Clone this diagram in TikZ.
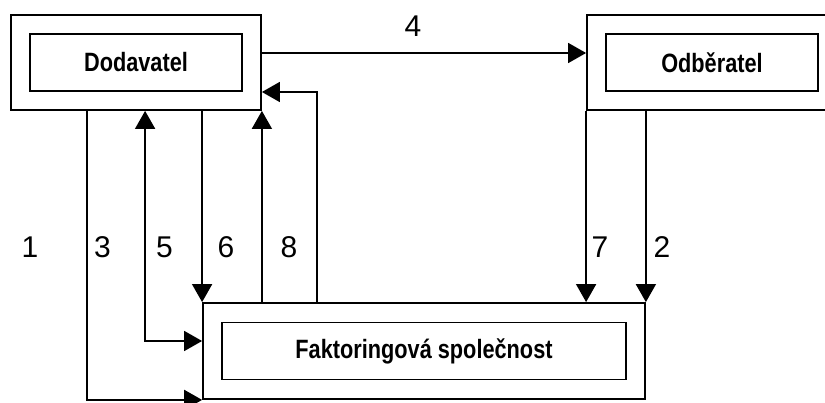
\documentclass[tikz,border=0pt]{standalone}
\usepackage{fontspec}
\usepackage{graphicx}
\setmainfont{Liberation Sans}
\usetikzlibrary{arrows.meta,positioning}

% narrow bold caption inside the boxes
\newcommand{\boxlabel}[1]{\scalebox{0.82}[1]{\fontsize{26.5}{28}\selectfont\bfseries #1}}

\begin{document}
\begin{tikzpicture}[
  x=1pt, y=-1pt,
  outer/.style={rectangle, draw, line width=1.8pt, inner sep=0pt},
  inner/.style={rectangle, draw, line width=1.6pt, inner sep=0pt, minimum height=57pt},
  flow/.style={line width=1.6pt, -{Triangle[length=18pt,width=20pt]}},
  both/.style={line width=1.6pt, {Triangle[length=18pt,width=20pt]}-{Triangle[length=18pt,width=20pt]}},
  num/.style={font=\fontsize{30}{30}\selectfont, inner sep=0pt}
]
\clip (0,0) rectangle (825,403);

% parties
\node[outer, minimum width=250pt, minimum height=95pt] (dod) at (136,62.5) {};
\node[inner, minimum width=212pt] (dodin) at (dod.center) {\boxlabel{Dodavatel}};
\node[outer, minimum width=250pt, minimum height=95pt] (odb) at (712,62.5) {};
\node[inner, minimum width=212pt] (odbin) at (odb.center) {\boxlabel{Odběratel}};
\node[outer, minimum width=442pt, minimum height=96pt] (fak) at (424,351) {};
\node[inner, minimum width=404pt] (fakin) at (fak.center) {\boxlabel{Faktoringová společnost}};

% flows
\draw[flow] ([yshift=9.5pt]dod.east) -- ([yshift=9.5pt]odb.west);
\draw[flow] ([xshift=77pt]dod.south west) |- (fak.south west);
\draw[both] ([xshift=135pt]dod.south west) |- ([yshift=10pt]fak.west);
\draw[flow] (dod.south -| fak.north west) -- (fak.north west);
\draw[flow] (fak.north -| dod.south east) -- (dod.south east);
\draw[flow] ([xshift=115pt]fak.north west) |- ([yshift=-29.5pt]dod.east);
\draw[flow] (odb.south west) -- (odb.south west |- fak.north);
\draw[flow] (odb.south -| fak.north east) -- (fak.north east);

% numbers
\node[num] (n4) at (413,26) {4};
\node[num] (n1) at (30,247) {1};
\node[num] (n3) at (102.5,247) {3};
\node[num] (n5) at (164.5,247) {5};
\node[num] (n6) at (226,247) {6};
\node[num] (n8) at (289,247) {8};
\node[num] (n7) at (600,247) {7};
\node[num] (n2) at (662,247) {2};
\end{tikzpicture}
\end{document}
